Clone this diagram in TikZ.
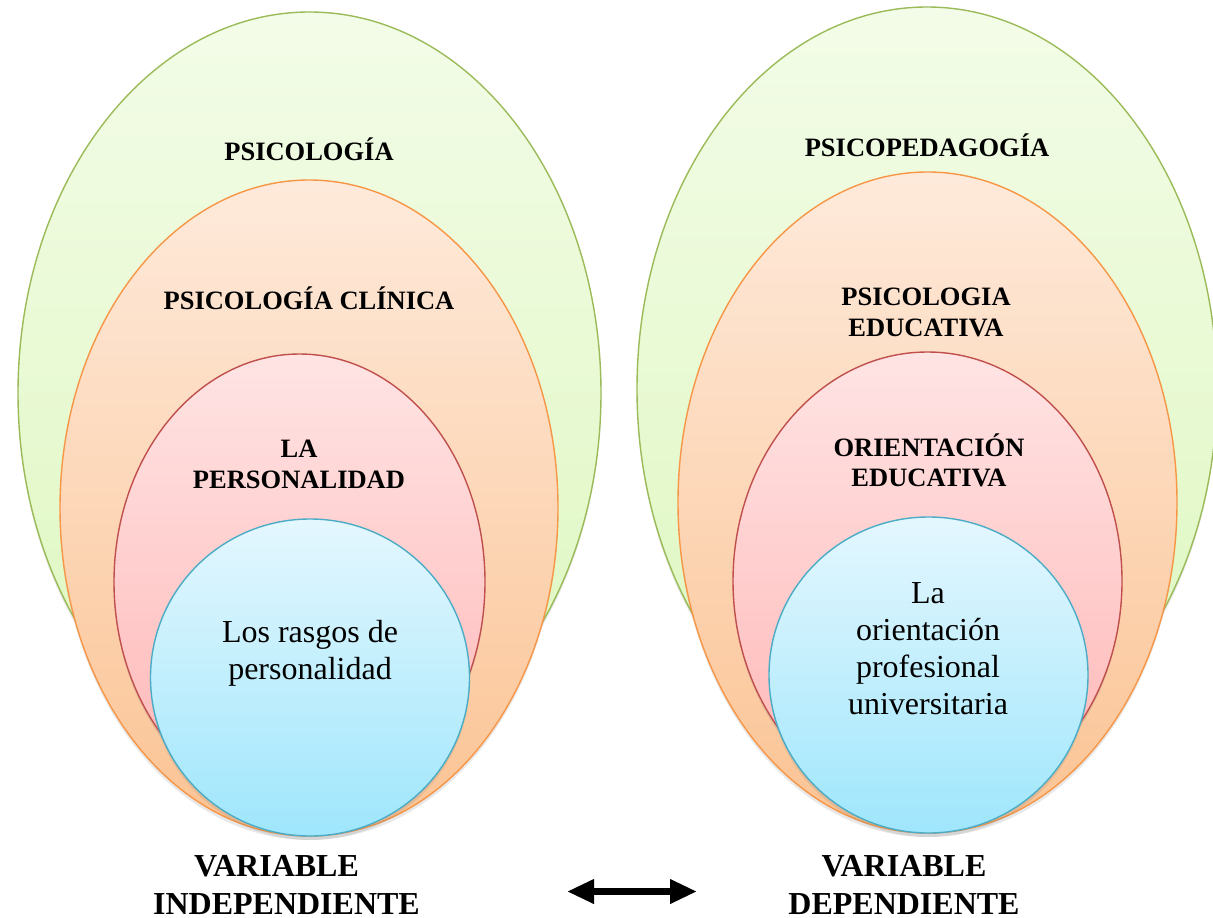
\documentclass[tikz,border=0pt]{standalone}
\usepackage{fontspec}
\setmainfont{Liberation Serif}
\usetikzlibrary{shapes.geometric,shadows,arrows.meta}
\definecolor{grnB}{HTML}{9BBB59}
\definecolor{grnT}{HTML}{F3FCE8}
\definecolor{grnL}{HTML}{DDF7BD}
\definecolor{orgB}{HTML}{F79646}
\definecolor{orgT}{HTML}{FEEADB}
\definecolor{orgL}{HTML}{FBC393}
\definecolor{redB}{HTML}{C0504D}
\definecolor{redT}{HTML}{FFE4E4}
\definecolor{redL}{HTML}{FFB5B5}
\definecolor{bluB}{HTML}{4BACC6}
\definecolor{bluT}{HTML}{E4F7FE}
\definecolor{bluL}{HTML}{9FE6FC}
\begin{document}
\begin{tikzpicture}[x=1pt,y=-1pt,
  ring/.style={ellipse, inner sep=0pt, line width=1.4pt,
    drop shadow={shadow xshift=0pt, shadow yshift=-4pt, opacity=0.18}},
  grn/.style={ring, draw=grnB, top color=grnT, bottom color=grnL},
  org/.style={ring, draw=orgB, top color=orgT, bottom color=orgL},
  rdd/.style={ring, draw=redB, top color=redT, bottom color=redL},
  blu/.style={ring, draw=bluB, top color=bluT, bottom color=bluL},
  head/.style={anchor=base, align=center, inner sep=0pt,
    font=\fontsize{26.5}{30.5}\selectfont\bfseries},
  body/.style={anchor=base, align=center, inner sep=0pt,
    font=\fontsize{32}{36.8}\selectfont},
  lab/.style={anchor=base, align=center, inner sep=0pt,
    font=\fontsize{32}{38.7}\selectfont\bfseries},
  dbl/.style={line width=7pt, {Triangle[length=27pt,width=23pt]}-{Triangle[length=27pt,width=23pt]}}
]
\useasboundingbox (0,0) rectangle (1213,918);
\fill[white] (0,0) rectangle (1213,918);
\clip (0,0) rectangle (1213,918);

% left group
\node[grn, minimum width=583pt, minimum height=762pt] (gL) at (309.5,393) {};
\node[org, minimum width=498pt, minimum height=656pt] (oL) at (309,508) {};
\node[rdd, minimum width=371pt, minimum height=456pt] (rL) at (299.5,582) {};
\node[blu, minimum width=319pt, minimum height=317pt] (bL) at (310,677.5) {};

% right group
\node[grn, minimum width=580pt, minimum height=764pt] (gR) at (927,389) {};
\node[org, minimum width=499pt, minimum height=661pt] (oR) at (927.5,502.5) {};
\node[rdd, minimum width=389pt, minimum height=458pt] (rR) at (927.5,581) {};
\node[blu, minimum width=319pt, minimum height=316pt] (bR) at (928.5,675) {};

% left texts (base = baseline of last line)
\node[head] (tgL) at (309,160.7) {PSICOLOGÍA};
\node[head] (toL) at (309,309.3) {PSICOLOGÍA CLÍNICA};
\node[head] (trL) at (299,488.3) {LA\\PERSONALIDAD};
\node[body] (tbL) at (310,679) {Los rasgos de\\personalidad};

% right texts
\node[head] (tgR) at (927,156) {PSICOPEDAGOGÍA};
\node[head] (toR) at (926,336) {PSICOLOGIA\\EDUCATIVA};
\node[head] (trR) at (929,486.7) {ORIENTACIÓN\\EDUCATIVA};
\node[body] (tbR) at (928,714) {La\\orientación\\profesional\\universitaria};

% bottom labels
\node[lab] (vI) at (286.5,914.7) {VARIABLE\hspace*{20pt}\\INDEPENDIENTE};
\node[lab] (vD) at (904,914.7) {VARIABLE\\DEPENDIENTE};

\coordinate (aL) at (567,891.5);
\coordinate (aR) at (697,891.5);
\draw[dbl] (aL) -- (aR);
\end{tikzpicture}
\end{document}
